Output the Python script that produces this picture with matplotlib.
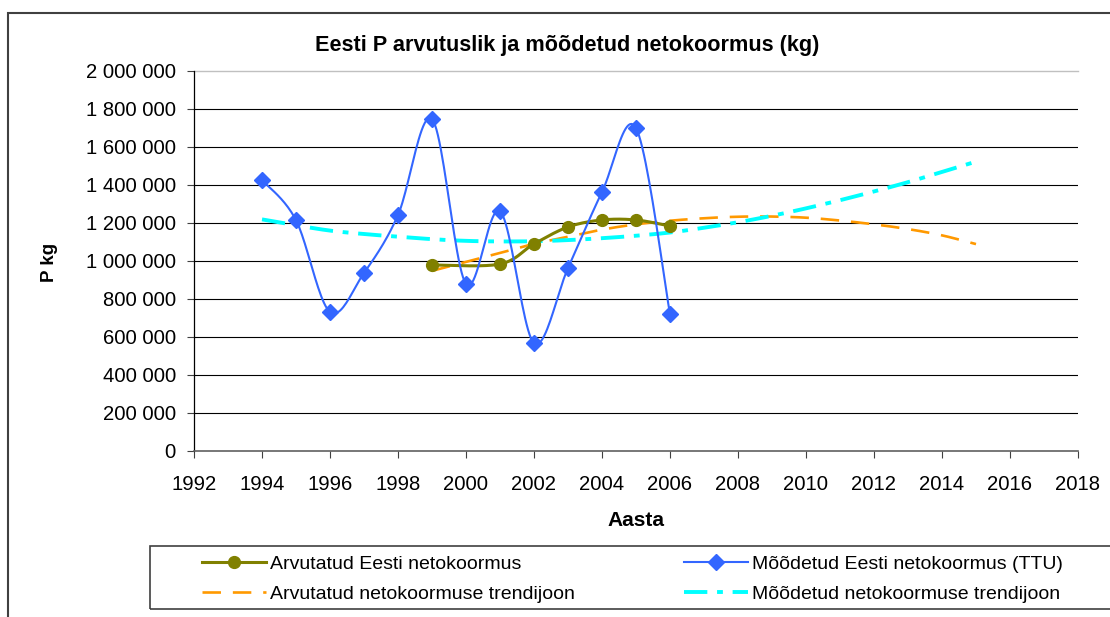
import matplotlib
matplotlib.use("Agg")
import matplotlib.pyplot as plt
import matplotlib.patches as patches
from matplotlib.lines import Line2D
import numpy as np

plt.rcParams['font.family'] = ['Liberation Sans', 'DejaVu Sans']

# Measured (TTU) net load, kg
meas_years = [1994, 1995, 1996, 1997, 1998, 1999, 2000, 2001, 2002, 2003, 2004, 2005, 2006]
meas_load = [1426000, 1215000, 732000, 937000, 1242000, 1747000, 879000, 1263000, 568000,
             963000, 1363000, 1700000, 721000]

# Calculated net load, kg
calc_years = [1999, 2001, 2002, 2003, 2004, 2005, 2006]
calc_load = [979000, 984000, 1090000, 1179000, 1216000, 1216000, 1184000]

# Trend lines
calc_trend_years = list(range(1999, 2016))
calc_trend = [948000, 995000, 1042000, 1090000, 1127000, 1165000, 1193000, 1212000, 1225000,
              1233000, 1234000, 1228000, 1213000, 1193000, 1168000, 1135000, 1089000]

meas_trend_years = list(range(1994, 2016))
meas_trend = [1219000, 1188000, 1160000, 1142000, 1128000, 1115000, 1106000, 1103000, 1104000,
              1110000, 1120000, 1133000, 1150000, 1175000, 1204000, 1238000, 1277000, 1320000,
              1366000, 1415000, 1469000, 1523000]

labels = ['Arvutatud Eesti netokoormus', 'Mõõdetud Eesti netokoormus (TTU)',
          'Arvutatud netokoormuse trendijoon', 'Mõõdetud netokoormuse trendijoon']

OLIVE = '#808000'
BLUE = '#3366FF'
ORANGE = '#FF9900'
CYAN = '#00FFFF'


# Excel-like smoothed line (cardinal spline through the points)
def smooth(x, y, n=24):
    x = np.asarray(x, float)
    y = np.asarray(y, float)
    xs, ys = [], []
    for i in range(len(x) - 1):
        i0 = max(i - 1, 0)
        i3 = min(i + 2, len(x) - 1)
        p0, p1, p2, p3 = (np.array([x[k], y[k]]) for k in (i0, i, i + 1, i3))
        c1 = p1 + (p2 - p0) / 6
        c2 = p2 - (p3 - p1) / 6
        t = np.linspace(0, 1, n)[:, None]
        b = ((1 - t) ** 3) * p1 + 3 * ((1 - t) ** 2) * t * c1 + 3 * (1 - t) * t ** 2 * c2 + t ** 3 * p2
        xs.extend(b[:, 0])
        ys.extend(b[:, 1])
    return xs, ys


fig = plt.figure(figsize=(11.1, 6.17), dpi=100)
ax = fig.add_axes([194 / 1110, 1 - 451 / 617, 884 / 1110, 380 / 617])

ax.set_xlim(1992, 2018)
ax.set_ylim(0, 2000000)
ax.set_xticks(range(1992, 2019, 2))
ax.set_yticks(range(0, 2000001, 200000))
ax.set_yticklabels([f'{v:,}'.replace(',', ' ') for v in range(0, 2000001, 200000)])

# gridlines
for v in range(200000, 1800001, 200000):
    ax.axhline(v, color='black', lw=0.8, zorder=1)
ax.axhline(2000000, color='#c0c0c0', lw=1.0, zorder=1, clip_on=False)

for s in ['top', 'right']:
    ax.spines[s].set_visible(False)
ax.spines['left'].set_color('black')
ax.spines['left'].set_linewidth(0.9)
ax.spines['bottom'].set_color('#606060')
ax.spines['bottom'].set_linewidth(1.2)
ax.tick_params(axis='both', direction='out', length=5, width=0.8, color='#404040',
               labelsize=14.6, pad=8)
ax.tick_params(axis='x', pad=12)

# trend lines
ct, = ax.plot(*smooth(calc_trend_years, calc_trend), color=ORANGE, lw=1.9, zorder=3)
ct.set_dashes([7, 4.5])
mt, = ax.plot(*smooth(meas_trend_years, meas_trend), color=CYAN, lw=2.8, zorder=3)
mt.set_dashes([6, 2.5, 1.5, 2.5])

# series
ax.plot(*smooth(calc_years, calc_load), color=OLIVE, lw=2.2, zorder=4)
ax.plot(calc_years, calc_load, 'o', color=OLIVE, ms=8.5, zorder=5)
ax.plot(*smooth(meas_years, meas_load), color=BLUE, lw=1.5, zorder=6)
ax.plot(meas_years, meas_load, 'D', color=BLUE, ms=8.5, zorder=7)

fig.text(567 / 1110, 1 - 46 / 617, 'Eesti P arvutuslik ja mõõdetud netokoormus (kg)',
         ha='center', va='center', fontsize=15.6, fontweight='bold')
fig.text(50 / 1110, 1 - 262 / 617, 'P kg', rotation=90, ha='center', va='center',
         fontsize=13.5, fontweight='bold')
fig.text(636 / 1110, 1 - 520 / 617, 'Aasta', ha='center', va='center',
         fontsize=15, fontweight='bold')

# outer chart border and legend frame
fig.patches.append(patches.Rectangle((8 / 1110, -0.1), 1.2, 0.1 + 1 - 13 / 617,
                                     transform=fig.transFigure, fill=False,
                                     ec='#404040', lw=1.5))
fig.patches.append(patches.Rectangle((150 / 1110, 1 - 609 / 617), 1.0, 63 / 617,
                                     transform=fig.transFigure, fill=False,
                                     ec='#404040', lw=1.2))

h_calc = Line2D([], [], color=OLIVE, lw=2.2, marker='o', ms=8.5)
h_meas = Line2D([], [], color=BLUE, lw=1.5, marker='D', ms=8.5)
h_ct = Line2D([], [], color=ORANGE, lw=1.9, dashes=[7, 4.5])
h_mt = Line2D([], [], color=CYAN, lw=2.8, dashes=[6, 2.5, 1.5, 2.5])

leg_kw = dict(frameon=False, fontsize=14, handlelength=3.3, handletextpad=0.2,
              labelspacing=0.66, borderpad=0, borderaxespad=0, loc='upper left')
leg1 = fig.legend([h_calc, h_ct], [labels[0], labels[2]],
                  bbox_to_anchor=(202 / 1110, 1 - 555 / 617), **leg_kw)
leg2 = fig.legend([h_meas, h_mt], [labels[1], labels[3]],
                  bbox_to_anchor=(684 / 1110, 1 - 555 / 617), **leg_kw)

fig.savefig('out.png', dpi=100)
